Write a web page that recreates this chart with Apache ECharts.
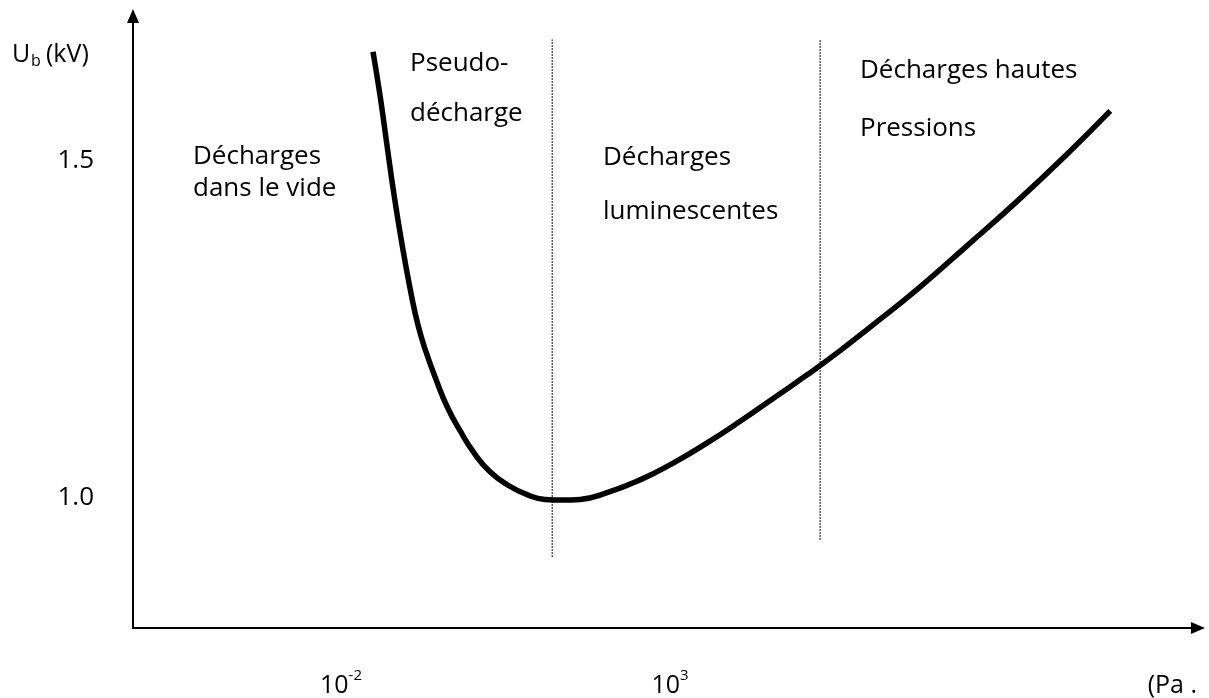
<!DOCTYPE html>
<html>
<head>
<meta charset="utf-8">
<script src="https://cdn.jsdelivr.net/npm/echarts@6/dist/echarts.min.js"></script>
<style>
html,body{margin:0;padding:0;background:#fff;}
#chart{width:1209px;height:698px;}
</style>
</head>
<body>
<div id="chart"></div>
<script>
// Paschen-like curve, x = log10(pressure), y = breakdown voltage (kV)
const curveX = [-1.514, -1.407, -1.301, -1.195, -1.073, -0.936, -0.830, -0.708, -0.556, -0.389, -0.191, 0.021, 0.264, 0.538, 0.827, 1.100, 1.374, 1.632, 2.043, 2.544, 3.046, 3.562, 4.064, 4.565, 5.082, 5.584, 6.040, 6.754, 7.514, 8.274, 9.033, 9.687];
const curveY = [1.662, 1.597, 1.523, 1.450, 1.376, 1.303, 1.256, 1.216, 1.175, 1.135, 1.099, 1.066, 1.038, 1.018, 1.004, 0.997, 0.996, 0.997, 1.007, 1.026, 1.051, 1.081, 1.113, 1.147, 1.182, 1.218, 1.253, 1.309, 1.374, 1.440, 1.510, 1.574];

const dividerX = [1.21, 5.28];
const dividerTop = [1.68, 1.68];
const dividerBottom = [0.912, 0.937];

const yTickValues = [1.0, 1.5];
const xTickValues = [-2, 3, 10.63];
const xTickBase = ['10', '10', '(Pa .'];
const xTickExp = ['-2', '3', ''];

const regionTexts = [
  ['Décharges', 'dans le vide'],
  ['Pseudo-', 'décharge'],
  ['Décharges', 'luminescentes'],
  ['Décharges hautes', 'Pressions']
];
const axisName = ['U', 'b', '(kV)'];

const FONT = '"Open Sans", "Liberation Sans", sans-serif';
const chart = echarts.init(document.getElementById('chart'), null, {renderer: 'canvas'});

const series = [{
  type: 'line',
  data: curveX.map((x, i) => [x, curveY[i]]),
  smooth: 0.5,
  symbol: 'none',
  lineStyle: {color: '#000', width: 5.5, cap: 'butt'},
  z: 5
}];
dividerX.forEach((x, i) => {
  series.push({
    type: 'line',
    data: [[x, dividerBottom[i]], [x, dividerTop[i]]],
    symbol: 'none',
    lineStyle: {color: '#222', width: 1.5, type: [1.5, 1.5]},
    z: 3
  });
});

function txt(text, x, y, size) {
  return {type: 'text', x: x, y: y, style: {text: text, font: size + 'px ' + FONT, fill: '#000', verticalAlign: 'middle', align: 'left'}};
}
const regionPos = [[193, 157, 189], [410, 64, 114], [603, 158, 212], [860, 71, 129]];
const graphics = [];
regionTexts.forEach((lines, i) => {
  graphics.push(txt(lines[0], regionPos[i][0], regionPos[i][1], 26));
  graphics.push(txt(lines[1], regionPos[i][0], regionPos[i][2], 26));
});
graphics.push(txt(axisName[0], 12, 55, 25));
graphics.push(txt(axisName[1], 31, 61, 16));
graphics.push(txt(axisName[2], 46, 55, 25));

chart.setOption({
  animation: false,
  backgroundColor: '#fff',
  grid: {left: 133, right: 11, top: 16, bottom: 64, containLabel: false},
  xAxis: {
    type: 'value', min: -5.16, max: 11.02,
    axisLine: {show: true, onZero: false, lineStyle: {color: '#000', width: 2}, symbol: ['none', 'triangle'], symbolSize: [12, 14]},
    axisTick: {show: false},
    splitLine: {show: false},
    axisLabel: {
      customValues: xTickValues,
      margin: 40,
      formatter: function (v) {
        const i = xTickValues.findIndex(t => Math.abs(t - v) < 1e-6);
        if (i < 0) return '';
        return '{n|' + xTickBase[i] + '}' + (xTickExp[i] ? '{p|' + xTickExp[i] + '}' : '');
      },
      rich: {
        n: {fontFamily: FONT, fontSize: 25, color: '#000', verticalAlign: 'bottom', lineHeight: 30},
        p: {fontFamily: FONT, fontSize: 15, color: '#000', verticalAlign: 'top', lineHeight: 30}
      }
    }
  },
  yAxis: {
    type: 'value', min: 0.806, max: 1.715,
    axisLine: {show: true, onZero: false, lineStyle: {color: '#000', width: 2}, symbol: ['none', 'triangle'], symbolSize: [12, 14]},
    axisTick: {show: false},
    splitLine: {show: false},
    axisLabel: {
      customValues: yTickValues,
      margin: 39,
      fontFamily: FONT, fontSize: 26, color: '#000',
      formatter: v => v.toFixed(1)
    }
  },
  graphic: graphics,
  series: series
});
</script>
</body>
</html>
